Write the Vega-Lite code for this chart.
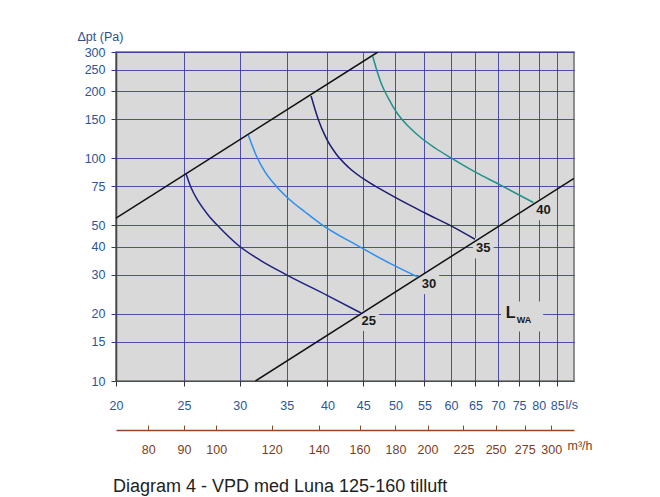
{
  "$schema": "https://vega.github.io/schema/vega-lite/v6.json",
  "width": 458,
  "height": 329,
  "autosize": {"type": "none"},
  "padding": {"left": 116, "top": 52, "right": 86, "bottom": 116},
  "config": {
    "font": "Liberation Sans",
    "view": {"fill": "#d9d9d9", "stroke": "#6f6f6f", "strokeWidth": 1.5}
  },
  "title": {
    "text": "Diagram 4 - VPD med Luna 125-160 tilluft",
    "orient": "bottom",
    "anchor": "start",
    "frame": "group",
    "fontSize": 18,
    "fontWeight": "normal",
    "color": "#222222",
    "offset": 22,
    "dx": -3
  },
  "datasets": {
    "curves": [
      {"series": "upper", "q": 20, "p": 53.8},
      {"series": "upper", "q": 47.2, "p": 300},
      {"series": "lower", "q": 31.6, "p": 10},
      {"series": "lower", "q": 89.8, "p": 81.3},
      {"series": "25", "q": 25.17, "p": 85},
      {"series": "25", "q": 25.56, "p": 74.3},
      {"series": "25", "q": 26.18, "p": 64.3},
      {"series": "25", "q": 27.05, "p": 55.65},
      {"series": "25", "q": 28.13, "p": 48.6},
      {"series": "25", "q": 29.83, "p": 40.8},
      {"series": "25", "q": 32.07, "p": 34.9},
      {"series": "25", "q": 34.82, "p": 30.2},
      {"series": "25", "q": 39.9, "p": 24.3},
      {"series": "25", "q": 44.67, "p": 20.2},
      {"series": "30", "q": 30.86, "p": 127.2},
      {"series": "30", "q": 31.65, "p": 103.5},
      {"series": "30", "q": 32.6, "p": 86.8},
      {"series": "30", "q": 33.8, "p": 75.1},
      {"series": "30", "q": 35.39, "p": 65.0},
      {"series": "30", "q": 37.18, "p": 57.4},
      {"series": "30", "q": 39.31, "p": 50.2},
      {"series": "30", "q": 44.23, "p": 40.4},
      {"series": "30", "q": 49.6, "p": 33.2},
      {"series": "30", "q": 53.8, "p": 29.3},
      {"series": "35", "q": 37.92, "p": 190.4},
      {"series": "35", "q": 38.8, "p": 150.2},
      {"series": "35", "q": 39.83, "p": 123.4},
      {"series": "35", "q": 41.17, "p": 104.5},
      {"series": "35", "q": 42.82, "p": 91.4},
      {"series": "35", "q": 44.83, "p": 81.6},
      {"series": "35", "q": 47.55, "p": 72.8},
      {"series": "35", "q": 50.26, "p": 66.0},
      {"series": "35", "q": 55.09, "p": 56.8},
      {"series": "35", "q": 60, "p": 49.7},
      {"series": "35", "q": 64.9, "p": 43.3},
      {"series": "40", "q": 46.4, "p": 288},
      {"series": "40", "q": 46.93, "p": 254.4},
      {"series": "40", "q": 47.7, "p": 217.8},
      {"series": "40", "q": 48.82, "p": 186.6},
      {"series": "40", "q": 50.26, "p": 159.7},
      {"series": "40", "q": 52.12, "p": 139.6},
      {"series": "40", "q": 54.2, "p": 124.6},
      {"series": "40", "q": 56.95, "p": 111.2},
      {"series": "40", "q": 60, "p": 100.3},
      {"series": "40", "q": 64.9, "p": 86.8},
      {"series": "40", "q": 70.5, "p": 75.9},
      {"series": "40", "q": 78.6, "p": 63.3}
    ],
    "labels": [
      {"text": "25", "q": 45.8, "p": 18.66},
      {"text": "30", "q": 55.8, "p": 27.3},
      {"text": "35", "q": 66.7, "p": 39.5},
      {"text": "40", "q": 81.25, "p": 58.6}
    ],
    "lwa": [
      {"part": "box", "text": "", "q": 75.75, "p": 19.48},
      {"part": "L", "text": "L", "q": 72.96, "p": 20.2},
      {"part": "WA", "text": "WA", "q": 76.25, "p": 18.8}
    ],
    "m3h": [
      {"m3h": 80}, {"m3h": 90}, {"m3h": 100}, {"m3h": 120}, {"m3h": 140}, {"m3h": 160},
      {"m3h": 180}, {"m3h": 200}, {"m3h": 225}, {"m3h": 250}, {"m3h": 275}, {"m3h": 300}
    ]
  },
  "layer": [
    {
      "layer": [
        {
          "data": {"name": "labels"},
          "mark": {"type": "point", "shape": "square", "filled": true, "color": "#d9d9d9", "opacity": 1, "size": 420},
          "encoding": {
            "x": {"field": "q", "type": "quantitative",
              "scale": {"type": "log", "domain": [20, 89.8], "nice": false},
              "axis": {
                "values": [20, 25, 30, 35, 40, 45, 50, 55, 60, 65, 70, 75, 80, 85],
                "format": "d",
                "title": "l/s",
                "titleAlign": "left",
                "titleBaseline": "middle",
                "titleX": 449,
                "titleY": 23,
                "titleColor": "#2d5596",
                "titleFontSize": 12.5,
                "titleFontWeight": "normal",
                "labelColor": "#2d5596",
                "labelFontSize": 12.5,
                "labelPadding": 13,
                "labelFlush": false,
                "labelOverlap": false,
                "tickSize": 5,
                "tickColor": "#333333",
                "domain": false,
                "grid": true,
                "gridColor": "#3535a0",
                "gridOpacity": 0.85
              }
            },
            "y": {"field": "p", "type": "quantitative",
              "scale": {"type": "log", "domain": [10, 300], "nice": false},
              "axis": {
                "values": [10, 15, 20, 30, 40, 50, 75, 100, 150, 200, 250, 300],
                "format": "d",
                "title": "Δpt (Pa)",
                "titleAngle": 0,
                "titleAlign": "left",
                "titleBaseline": "middle",
                "titleX": -39,
                "titleY": -16,
                "titleColor": "#2d4f8f",
                "titleFontSize": 12.5,
                "titleFontWeight": "normal",
                "labelColor": "#2d5596",
                "labelFontSize": 12.5,
                "labelPadding": 6,
                "labelFlush": false,
                "labelOverlap": false,
                "tickSize": 5,
                "tickColor": "#3535a0",
                "domainColor": "#444444",
                "domainWidth": 1.5,
                "grid": true,
                "gridColor": "#3535a0",
                "gridOpacity": 0.85
              }
            }
          }
        },
        {
          "data": {"name": "lwa"},
          "transform": [{"filter": "datum.part == 'box'"}],
          "mark": {"type": "point", "shape": "M-1.4,-1L1.4,-1L1.4,1L-1.4,1Z", "filled": true, "color": "#d9d9d9", "opacity": 1, "size": 900},
          "encoding": {
            "x": {"field": "q", "type": "quantitative"},
            "y": {"field": "p", "type": "quantitative"}
          }
        },
        {
          "data": {"name": "curves"},
          "mark": {"type": "line", "strokeWidth": 1.5, "interpolate": "monotone", "clip": true},
          "encoding": {
            "x": {"field": "q", "type": "quantitative"},
            "y": {"field": "p", "type": "quantitative"},
            "color": {"field": "series", "type": "nominal",
              "scale": {"domain": ["upper", "lower", "25", "30", "35", "40"],
                        "range": ["#111111", "#111111", "#202080", "#2b8ef0", "#1c1c70", "#20908a"]},
              "legend": null}
          }
        },
        {
          "data": {"name": "labels"},
          "mark": {"type": "text", "fontSize": 13, "fontWeight": "bold", "color": "#1a1a1a"},
          "encoding": {
            "x": {"field": "q", "type": "quantitative"},
            "y": {"field": "p", "type": "quantitative"},
            "text": {"field": "text"}
          }
        },
        {
          "data": {"name": "lwa"},
          "transform": [{"filter": "datum.part == 'L'"}],
          "mark": {"type": "text", "fontSize": 16, "fontWeight": "bold", "color": "#1a1a1a"},
          "encoding": {
            "x": {"field": "q", "type": "quantitative"},
            "y": {"field": "p", "type": "quantitative"},
            "text": {"field": "text"}
          }
        },
        {
          "data": {"name": "lwa"},
          "transform": [{"filter": "datum.part == 'WA'"}],
          "mark": {"type": "text", "fontSize": 9, "fontWeight": "bold", "color": "#1a1a1a"},
          "encoding": {
            "x": {"field": "q", "type": "quantitative"},
            "y": {"field": "p", "type": "quantitative"},
            "text": {"field": "text"}
          }
        }
      ]
    },
    {
      "data": {"name": "m3h"},
      "mark": {"type": "point", "opacity": 0},
      "encoding": {
        "x": {"field": "m3h", "type": "quantitative",
          "scale": {"type": "log", "domain": [72, 323.3], "nice": false},
          "axis": {
            "orient": "bottom",
            "offset": 49,
            "values": [80, 90, 100, 120, 140, 160, 180, 200, 225, 250, 275, 300],
            "format": "d",
            "title": "m³/h",
            "titleAlign": "left",
            "titleBaseline": "middle",
            "titleX": 451,
            "titleY": 15,
            "titleColor": "#7a3e1e",
            "titleFontSize": 12.5,
            "titleFontWeight": "normal",
            "labelColor": "#7a3e1e",
            "labelFontSize": 12.5,
            "labelPadding": 18,
            "labelFlush": false,
            "labelOverlap": false,
            "tickSize": -5,
            "tickColor": "#8b4a2a",
            "domainColor": "#8b4a2a",
            "domainWidth": 1.5,
            "grid": false
          }
        }
      }
    }
  ],
  "resolve": {"scale": {"x": "independent"}, "axis": {"x": "independent"}}
}
